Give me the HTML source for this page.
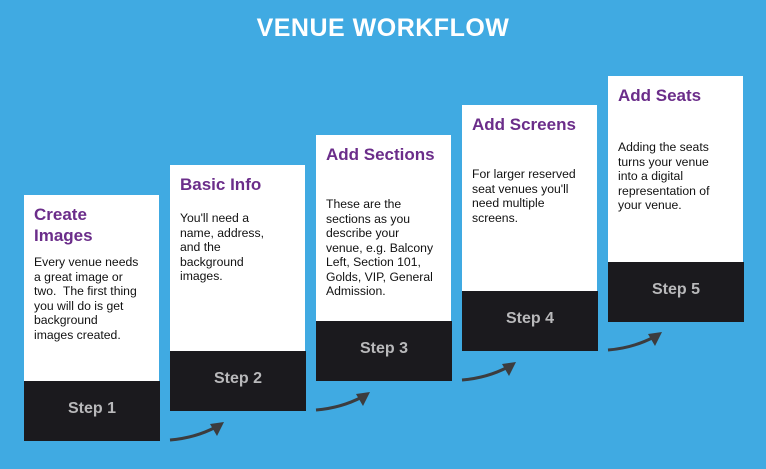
<!DOCTYPE html>
<html><head><meta charset="utf-8"><style>
body{margin:0;width:766px;height:469px;background:#40aae2;position:relative;overflow:hidden;font-family:"Liberation Sans",sans-serif}
h1{position:absolute;top:14px;left:0;width:766px;text-align:center;margin:0;color:#fff;font-size:25px;font-weight:bold;letter-spacing:0.5px}
.c{position:absolute;width:135px;height:246px}
.w{position:absolute;left:0;top:0;width:135px;height:186px;background:#fff}
.d{position:absolute;left:0;top:186px;width:136px;height:60px;background:#1b1a1e;color:#b9b9bb;font-weight:bold;font-size:16px;text-align:center;line-height:56px}
.t{position:absolute;left:10px;top:9px;color:#6b2d8a;font-weight:bold;font-size:17px;line-height:21px}
.b{position:absolute;left:10px;white-space:nowrap;color:#111;font-size:12.2px;line-height:14.5px}
svg{position:absolute}
</style></head><body>
<h1>VENUE WORKFLOW</h1>
<div class="c" style="left:24px;top:195px"><div class="w"><div class="t">Create<br>Images</div><div class="b" style="top:60px">Every venue needs<br>a great image or<br>two.&nbsp; The first thing<br>you will do is get<br>background<br>images created.</div></div><div class="d">Step 1</div></div>
<div class="c" style="left:170px;top:165px"><div class="w"><div class="t">Basic Info</div><div class="b" style="top:46px">You'll need a<br>name, address,<br>and the<br>background<br>images.</div></div><div class="d">Step 2</div></div>
<div class="c" style="left:316px;top:135px"><div class="w"><div class="t">Add Sections</div><div class="b" style="top:62px">These are the<br>sections as you<br>describe your<br>venue, e.g. Balcony<br>Left, Section 101,<br>Golds, VIP, General<br>Admission.</div></div><div class="d">Step 3</div></div>
<div class="c" style="left:462px;top:105px"><div class="w"><div class="t">Add Screens</div><div class="b" style="top:62px">For larger reserved<br>seat venues you'll<br>need multiple<br>screens.</div></div><div class="d">Step 4</div></div>
<div class="c" style="left:608px;top:76px"><div class="w"><div class="t">Add Seats</div><div class="b" style="top:64px">Adding the seats<br>turns your venue<br>into a digital<br>representation of<br>your venue.</div></div><div class="d">Step 5</div></div>
<svg width="766" height="469">
<defs><g id="a"><path d="M0,16 Q25,14 46,3" stroke="#3c3c3e" stroke-width="3" fill="none"/><polygon points="54,-2 40,0 47,12" fill="#3c3c3e"/></g></defs>
<use href="#a" x="170" y="424"/>
<use href="#a" x="316" y="394"/>
<use href="#a" x="462" y="364"/>
<use href="#a" x="608" y="334"/>
</svg>
</body></html>
